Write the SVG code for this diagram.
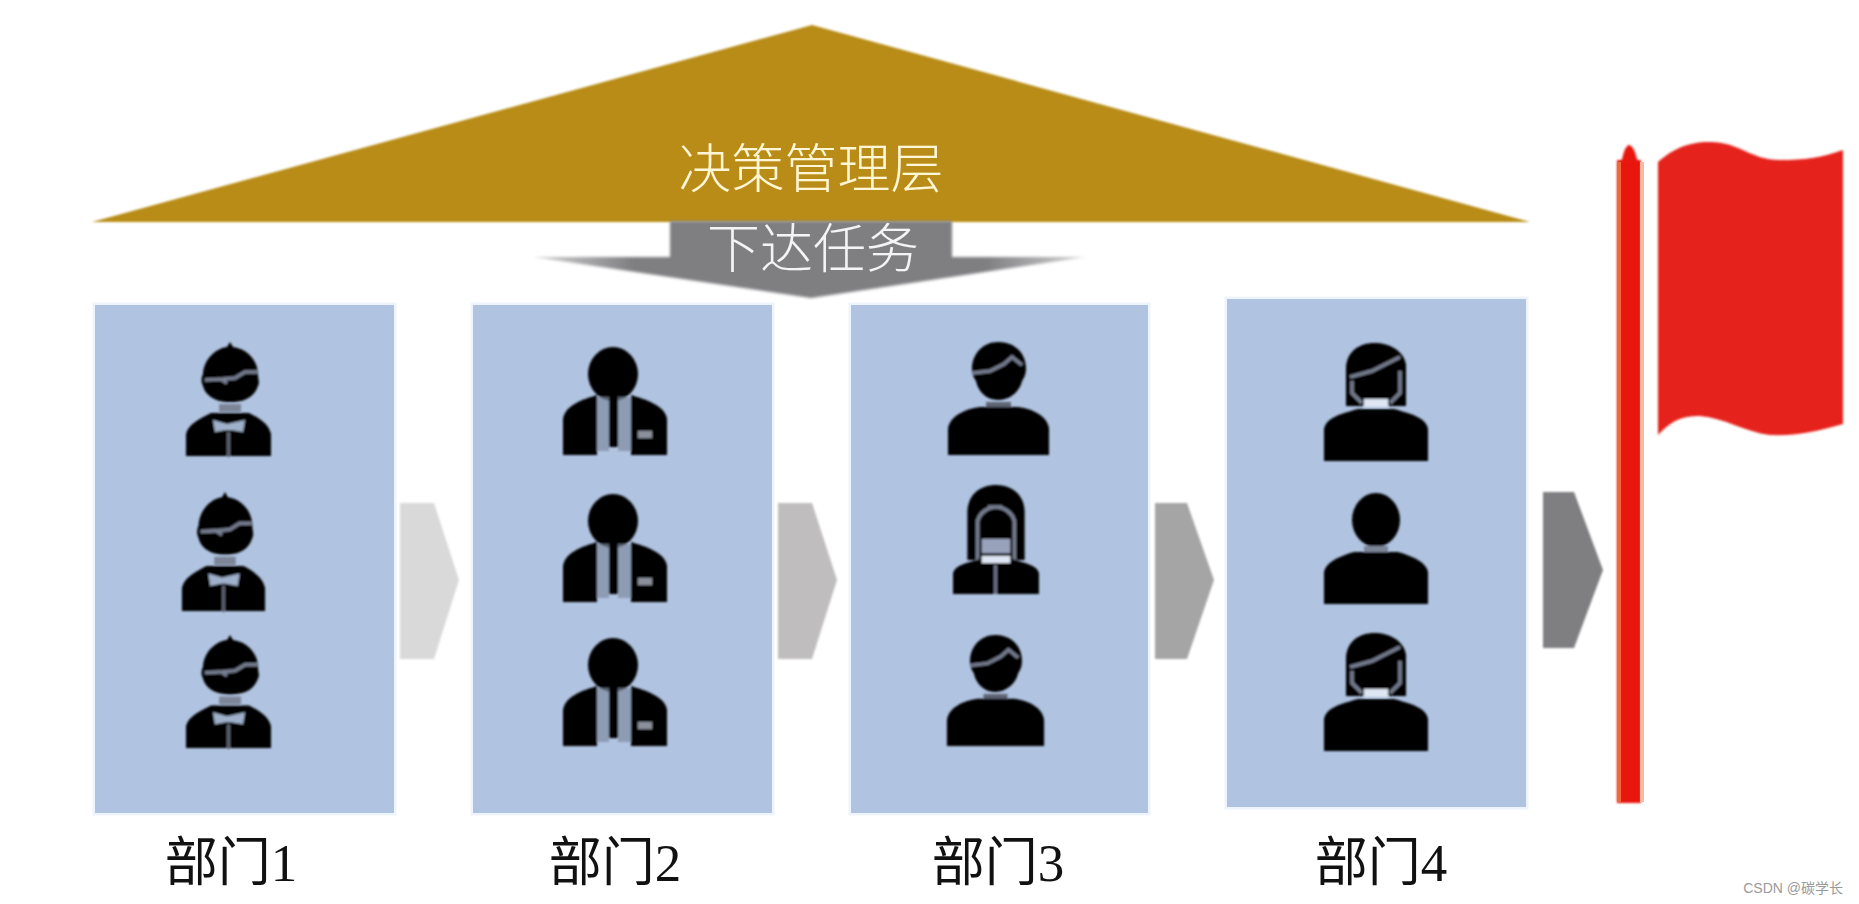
<svg xmlns="http://www.w3.org/2000/svg" xmlns:xlink="http://www.w3.org/1999/xlink" width="1859" height="904" viewBox="0 0 1859 904">
<style>
.panel{fill:#b0c3e0;stroke:#eef4fc;stroke-width:5;paint-order:stroke}
.lab{font-family:"Liberation Serif","Noto Sans CJK SC",serif;font-size:53px;fill:#111;text-anchor:middle}
.head{font-family:"Noto Sans CJK SC","Liberation Sans",sans-serif;font-weight:300;text-anchor:middle}
.blk{fill:#000}
.gl{fill:none;stroke:#767e90;stroke-width:3.5}
.lt{fill:#b0c3e0}
</style>
<defs>
<linearGradient id="wing" x1="0" x2="1" y1="0" y2="0">
<stop offset="0" stop-color="#7f7f82" stop-opacity=".35"/>
<stop offset=".18" stop-color="#7f7f82"/>
<stop offset=".82" stop-color="#7f7f82"/>
<stop offset="1" stop-color="#7f7f82" stop-opacity=".35"/>
</linearGradient>
<filter id="soft" x="-10%" y="-10%" width="120%" height="120%"><feGaussianBlur stdDeviation="0.9"/></filter>
<filter id="softw" x="-5%" y="-20%" width="110%" height="140%"><feGaussianBlur stdDeviation="1.6"/></filter>
<symbol id="glasses" viewBox="0 0 90 115" preserveAspectRatio="none" overflow="visible">
<g filter="url(#soft)">
<path class="blk" d="M47 0 L50 5 C64 7 75 18 75 33 C75 37 77 40 75 44 C72 52 66 60 47 60 C30 60 22 52 20 44 C18 40 18 36 20 32 C21 16 34 6 44 5Z"/>
<path class="gl" d="M22 38 L40 37 L52 36 L62 30 L74 30 M38 37 L44 41"/>
<path class="blk" d="M3 114 L3 92 C5 82 18 76 28 71 L66 71 C76 76 86 82 88 92 L88 114Z"/>
<path class="lt" d="M30 78 L44 82 L62 78 L60 90 L48 88 L43 88 L32 90Z" fill-opacity=".9"/>
<rect x="44" y="90" width="3" height="25" fill="#5b6270"/>
<rect x="36" y="62" width="22" height="8" fill="#7d8698"/>
</g>
</symbol>
<symbol id="suit" viewBox="0 0 108 110" preserveAspectRatio="none" overflow="visible">
<g filter="url(#soft)">
<ellipse class="blk" cx="52" cy="27" rx="25" ry="27"/>
<path class="blk" d="M2 108 L2 72 C4 60 16 54 36 48 L36 108Z"/>
<path class="blk" d="M70 48 C90 54 104 60 106 72 L106 108 L70 108Z"/>
<path class="blk" d="M48 52 L57 52 L57 100 L48 100Z"/>
<rect x="77" y="84" width="14" height="7" fill="#8a8f9a"/>
<rect x="36" y="50" width="12" height="54" fill="#7e8aa0" opacity=".7"/>
<rect x="57" y="50" width="13" height="54" fill="#7e8aa0" opacity=".7"/>
</g>
</symbol>
<symbol id="hair" viewBox="0 0 105 120" preserveAspectRatio="none" overflow="visible">
<g filter="url(#soft)">
<path class="blk" d="M52 5 C70 5 80 17 80 32 C80 37 78 41 76 44 C74 54 64 63 52 63 C40 63 32 54 30 44 C27 40 26 36 26 32 C26 16 38 5 52 5Z"/>
<path class="gl" d="M27 36 L44 34 L58 27 L66 20 L76 28"/>
<rect x="40" y="65" width="25" height="6" fill="#5f6573"/>
<path class="blk" d="M2 118 L2 92 C3 80 18 72 34 70 L72 70 C88 72 102 80 103 92 L103 118Z"/>
</g>
</symbol>
<symbol id="plain" viewBox="0 0 108 113" preserveAspectRatio="none" overflow="visible">
<g filter="url(#soft)">
<ellipse class="blk" cx="54" cy="28" rx="24" ry="27"/>
<rect x="42" y="54" width="24" height="7" fill="#7d8698"/>
<path class="blk" d="M2 112 L2 80 C4 70 18 64 32 60 L76 60 C90 64 104 70 106 80 L106 112Z"/>
</g>
</symbol>
<symbol id="woman" viewBox="0 0 108 122" preserveAspectRatio="none" overflow="visible">
<g filter="url(#soft)">
<path class="blk" d="M24 65 L24 26 C25 10 38 2 52 2 C68 2 82 10 84 24 L84 65Z"/>
<path class="gl" d="M28 36 L50 30 L66 22 L78 16 M30 40 L30 52 L40 62 M78 30 L78 52 L68 62"/>
<rect x="42" y="58" width="24" height="8" fill="#dfe6f3"/>
<path class="blk" d="M2 120 L2 88 C4 78 14 74 36 68 L72 68 C94 74 104 78 106 88 L106 120Z"/>
</g>
</symbol>
<symbol id="longhair" viewBox="0 0 88 110" preserveAspectRatio="none" overflow="visible">
<g filter="url(#soft)">
<path class="blk" d="M16 75 L16 26 C17 8 30 0 44 0 C58 0 71 8 72 26 L72 75Z"/>
<path class="gl" d="M26 75 L26 36 C28 28 36 22 44 22 C52 22 60 28 62 36 L62 75 M36 22 L50 22"/>
<rect x="30" y="54" width="28" height="14" fill="#98a2bb"/>
<path class="blk" d="M2 109 L2 88 C4 80 16 78 28 74 L60 74 C72 78 84 80 86 88 L86 109Z"/>
<rect x="30" y="71" width="28" height="7" fill="#dfe6f3"/>
<rect x="42" y="80" width="3" height="29" fill="#6a7183"/>
</g>
</symbol>
</defs>
<rect width="1859" height="904" fill="#fff"/>
<g id="decision-layer">
<polygon points="812,25 1530,222 92,222" fill="#b88c17" filter="url(#soft)"/>
<text class="head" x="811" y="188" font-size="53" fill="#fff6d6">决策管理层</text>
</g>
<g id="task-arrow">
<polygon points="534,257 670,257 670,221 952,221 952,257 1085,257 811,298" fill="url(#wing)" filter="url(#softw)"/>
<text class="head" x="813" y="268" font-size="53" fill="#f4f4f4">下达任务</text>
</g>
<g id="dept1">
<rect class="panel" x="95" y="305" width="299" height="508"/>
<use xlink:href="#glasses" href="#glasses" x="183" y="342" width="90" height="115"/>
<use xlink:href="#glasses" href="#glasses" x="179" y="492" width="88" height="120"/>
<use xlink:href="#glasses" href="#glasses" x="183" y="635" width="90" height="114"/>
<text class="lab" x="231" y="881">部门1</text>
</g>
<g id="dept2">
<rect class="panel" x="473" y="305" width="299" height="508"/>
<use xlink:href="#suit" href="#suit" x="561" y="347" width="108" height="110"/>
<use xlink:href="#suit" href="#suit" x="561" y="494" width="108" height="110"/>
<use xlink:href="#suit" href="#suit" x="561" y="638" width="108" height="110"/>
<text class="lab" x="615" y="881">部门2</text>
</g>
<g id="dept3">
<rect class="panel" x="851" y="305" width="297" height="508"/>
<use xlink:href="#hair" href="#hair" x="946" y="337" width="105" height="120"/>
<use xlink:href="#longhair" href="#longhair" x="951" y="485" width="90" height="110"/>
<use xlink:href="#hair" href="#hair" x="945" y="630" width="101" height="118"/>
<text class="lab" x="998" y="881">部门3</text>
</g>
<g id="dept4">
<rect class="panel" x="1227" y="299" width="299" height="508"/>
<use xlink:href="#woman" href="#woman" x="1322" y="341" width="108" height="122"/>
<use xlink:href="#plain" href="#plain" x="1322" y="492" width="108" height="113"/>
<use xlink:href="#woman" href="#woman" x="1322" y="631" width="108" height="122"/>
<text class="lab" x="1381" y="881">部门4</text>
</g>
<g id="connectors" filter="url(#soft)">
<polygon points="400,503 434,503 459,580 434,659 400,659" fill="#d9d9d9"/>
<polygon points="778,503 812,503 837,580 812,659 778,659" fill="#bfbdbd"/>
<polygon points="1155,503 1187,503 1214,580 1187,659 1155,659" fill="#a5a5a5"/>
<polygon points="1543,492 1574,492 1603,570 1574,648 1543,648" fill="#7f7f82"/>
</g>
<g id="flag">
<rect x="1617" y="160" width="24" height="643" fill="#e8170f" filter="url(#soft)"/>
<path d="M1621 165 Q1624 146 1629 145 Q1635 146 1638 165Z" fill="#e8170f" filter="url(#soft)"/>
<rect x="1617" y="162" width="4" height="640" fill="#ee6a3c"/>
<rect x="1640" y="162" width="4" height="640" fill="#f9b9a0"/>
<path d="M1658 162 C1672 150 1686 142 1710 142 C1740 142 1750 160 1780 160 C1805 160 1820 158 1843 150 L1843 424 C1815 432 1795 436 1770 435 C1745 432 1725 418 1700 416 C1680 415 1668 424 1658 435Z" fill="#e6201a" filter="url(#soft)"/>
</g>
<text x="1843" y="893" font-family="'Liberation Sans','Noto Sans CJK SC',sans-serif" font-size="14" fill="#9a9a9a" text-anchor="end">CSDN @碳学长</text>
</svg>
